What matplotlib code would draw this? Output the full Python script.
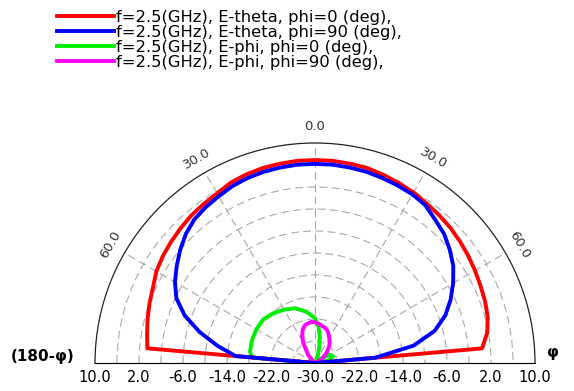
import matplotlib
matplotlib.use("Agg")
import matplotlib.pyplot as plt
import numpy as np
from matplotlib.lines import Line2D
from matplotlib.transforms import offset_copy

# angles in degrees (0 = up, positive = right / phi side), values in dB
RED_ANG = [-90, -85, -80, -75, -70, -65, -60, -55, -50, -45, -40, -35, -30, -25, -20, -15, -10, -5, 0,
           5, 10, 15, 20, 25, 30, 35, 40, 45, 50, 55, 60, 65, 70, 75, 80, 85, 90]
RED_DB = [-30, 0.6, 1.0, 1.5, 2.0, 2.5, 3.3, 3.8, 4.2, 4.6, 5.0, 5.3, 5.6, 6.2, 6.5, 6.7, 6.8, 6.9, 6.9,
          6.9, 6.8, 6.7, 6.4, 6.1, 5.8, 5.4, 5.1, 4.8, 4.4, 4.0, 3.6, 3.2, 2.9, 2.5, 1.8, 0.5, -30]

BLUE_ANG = [-90, -85, -80, -75, -70, -65, -60, -55, -50, -45, -40, -35, -30, -25, -20, -15, -10, -5, 0,
            5, 10, 15, 20, 25, 30, 35, 40, 45, 50, 55, 60, 65, 70, 75, 80, 85, 90]
BLUE_DB = [-30, -15.5, -12.0, -8.3, -4.8, -2.2, -0.6, 0.7, 2.0, 3.2, 4.1, 4.6, 5.0, 5.5, 5.8, 6.0, 6.1, 6.2, 6.2,
           6.2, 6.1, 6.0, 5.8, 5.6, 5.4, 5.0, 4.0, 3.2, 2.0, 0.7, -1.0, -2.8, -4.8, -7.5, -11.8, -19.0, -30]

GREEN_ANG = [-90, -85, -80, -70, -60, -50, -40, -30, -20, -10, 0, 5, 10, 15, 20, 30, 40, 50, 60, 70, 80, 90]
GREEN_DB = [-30, -18.5, -18.0, -17.8, -17.7, -17.7, -18.2, -18.8, -19.4, -20.5, -21.8, -23.2, -25.0, -27.0,
            -28.5, -30, -30, -29.0, -27.0, -26.5, -27.5, -30]

MAG_ANG = [-90, -60, -50, -40, -30, -25, -20, -15, -10, -5, 0, 5, 10, 15, 20, 25, 30, 35, 40, 45, 50, 55, 60,
           70, 90]
MAG_DB = [-30, -30, -29.5, -28.0, -25.7, -24.5, -23.5, -22.9, -22.7, -22.5, -22.6, -22.8, -23.1, -23.3, -23.6,
          -24.2, -24.8, -25.3, -26.0, -26.7, -27.5, -28.0, -28.6, -30, -30]

LABELS = [
    "f=2.5(GHz), E-theta, phi=0 (deg),",
    "f=2.5(GHz), E-theta, phi=90 (deg),",
    "f=2.5(GHz), E-phi, phi=0 (deg),",
    "f=2.5(GHz), E-phi, phi=90 (deg),",
]
COLORS = ["#ff0000", "#0000ff", "#00ee00", "#ff00ff"]

R_MIN, R_MAX = -30, 10
R_LABELS = [10, 2, -6, -14, -22, -30]
THETA_LABELS = [-60, -30, 0, 30, 60]

plt.rcParams["font.family"] = ["DejaVu Sans"]

W, H = 574, 391
fig = plt.figure(figsize=(W / 100, H / 100), dpi=100)
# the half disc sits in the middle of a square axes box
cx, cy, rad = 315, H - 363, 220
ax = fig.add_axes([(cx - rad) / W, (cy - rad / 2) / H, 2 * rad / W, 2 * rad / H],
                  projection="polar")
ax.set_theta_zero_location("N")
ax.set_theta_direction(-1)
ax.set_thetamin(-90)
ax.set_thetamax(90)
ax.set_rlim(R_MIN, R_MAX)

ax.set_rgrids(np.arange(-26, 10, 4), labels=[])
ax.set_thetagrids(np.arange(-90, 91, 30), labels=[])
ax.grid(color="#a8a8a8", linestyle=(0, (7, 4)), linewidth=0.8)
ax.spines["polar"].set_color("#222222")
ax.spines["polar"].set_linewidth(0.9)
ax.spines["start"].set_visible(False)
ax.spines["end"].set_visible(False)
ax.tick_params(length=0)

series = [(RED_ANG, RED_DB, 3), (BLUE_ANG, BLUE_DB, 4), (GREEN_ANG, GREEN_DB, 2), (MAG_ANG, MAG_DB, 2)]
handles = []
for (ang, db, z), color, label in zip(series, COLORS, LABELS):
    ax.plot(np.deg2rad(ang), db, color=color, lw=2.8, zorder=z, solid_joinstyle="round")
    handles.append(Line2D([], [], color=color, lw=2.8, label=label))

below = offset_copy(ax.transData, fig=fig, y=-14, units="dots")
for r in R_LABELS:
    ax.text(np.deg2rad(-90), r, f"{r:.1f}", transform=below, ha="center", va="center", fontsize=10.5)
    if r != R_MIN:
        ax.text(np.deg2rad(90), r, f"{r:.1f}", transform=below, ha="center", va="center", fontsize=10.5)

for a in THETA_LABELS:
    ax.text(np.deg2rad(a), 13, f"{abs(a):.1f}", rotation=-a, rotation_mode="anchor",
            ha="center", va="center", fontsize=9.5, color="#333333")

left_side = offset_copy(ax.transData, fig=fig, x=-20, y=7, units="dots")
ax.text(np.deg2rad(-90), R_MAX, "(180-φ)", transform=left_side, ha="right", va="center",
        fontsize=11, fontweight="bold")
right_side = offset_copy(ax.transData, fig=fig, x=12, y=10, units="dots")
ax.text(np.deg2rad(90), R_MAX, "φ", transform=right_side, ha="left", va="center",
        fontsize=11, fontweight="bold")

fig.legend(handles=handles, loc="upper left", bbox_to_anchor=(57 / W, 1 - 10 / H), frameon=False,
           fontsize=11.8, handlelength=3.45, handletextpad=0.15, labelspacing=0.0, borderpad=0,
           borderaxespad=0)

fig.savefig("out.png", dpi=100)
